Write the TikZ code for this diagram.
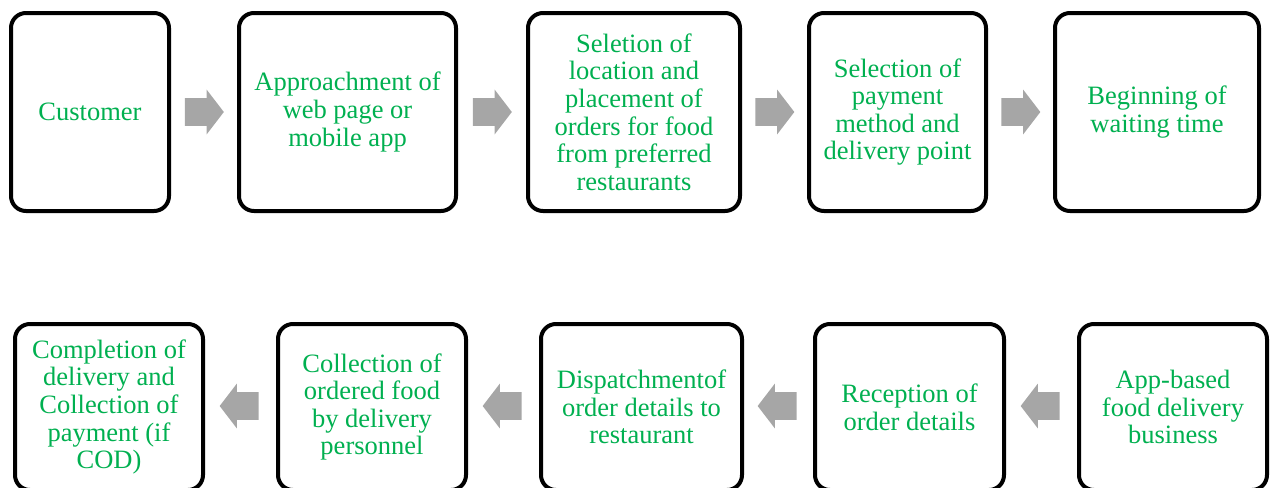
\documentclass[tikz,border=0pt]{standalone}
\usepackage{fontspec}
\setmainfont{Liberation Serif}
\usepackage{tikz}
\usetikzlibrary{
  positioning,
  shapes.arrows,
  calc
}
\definecolor{stepgreen}{HTML}{00B050}
\definecolor{flowgrey}{HTML}{A6A6A6}

\begin{document}
\begin{tikzpicture}[x=0.5pt, y=-0.5pt,
  stepbox/.style={draw=black, line width=2pt, rounded corners=7.5pt,
    fill=white, align=center, inner sep=2pt, text=stepgreen,
    font=\fontsize{13.25}{13.8}\selectfont},
  toprow/.style={stepbox, minimum height=99pt},
  botrow/.style={stepbox, minimum height=83pt},
  flowarrow/.style={single arrow, fill=flowgrey, draw=none,
    inner xsep=0pt, inner ysep=6.75pt, minimum height=19.5pt,
    single arrow head extend=4.25pt, single arrow tip angle=105}
]
  \useasboundingbox (0,0) rectangle (1271,488);
  \clip (0,0) rectangle (1271,488);

  % ordering steps
  \node[toprow, minimum width=79pt]    (customer)  at (90,112)    {Customer};
  \node[toprow, minimum width=108.5pt] (webapp)    at (347.5,112) {Approachment of\\web page or\\mobile app};
  \node[toprow, minimum width=106pt]   (ordering)  at (634,112)   {Seletion of\\location and\\placement of\\orders for food\\from preferred\\restaurants};
  \node[toprow, minimum width=88.5pt]  (payment)   at (897.5,112) {Selection of\\payment\\method and\\delivery point};
  \node[toprow, minimum width=102pt]   (waiting)   at (1157,112)  {Beginning of\\waiting time};

  % business side
  \node[botrow, minimum width=94pt]    (business)  at (1173,407)  {App-based\\food delivery\\business};
  \node[botrow, minimum width=94.5pt]  (reception) at (909.5,407) {Reception of\\order details};
  \node[botrow, minimum width=100.5pt] (dispatch)  at (641.5,407) {Dispatchmentof\\order details to\\restaurant};
  \node[botrow, minimum width=94pt]    (pickup)    at (372,407)   {Collection of\\ordered food\\by delivery\\personnel};
  \node[botrow, minimum width=94pt]    (complete)  at (109,407)   {Completion of\\delivery and\\Collection of\\payment (if\\COD)};

  \foreach \a/\b in {customer/webapp, webapp/ordering, ordering/payment, payment/waiting} {
    \node[flowarrow] (arr-\a) at ($(\a.east)!0.5!(\b.west) + (-5,0)$) {};
  }
  \foreach \a/\b in {business/reception, reception/dispatch, dispatch/pickup, pickup/complete} {
    \node[flowarrow, shape border rotate=180] (arr-\a) at ($(\a.west)!0.5!(\b.east) + (4,-1)$) {};
  }
\end{tikzpicture}
\end{document}
